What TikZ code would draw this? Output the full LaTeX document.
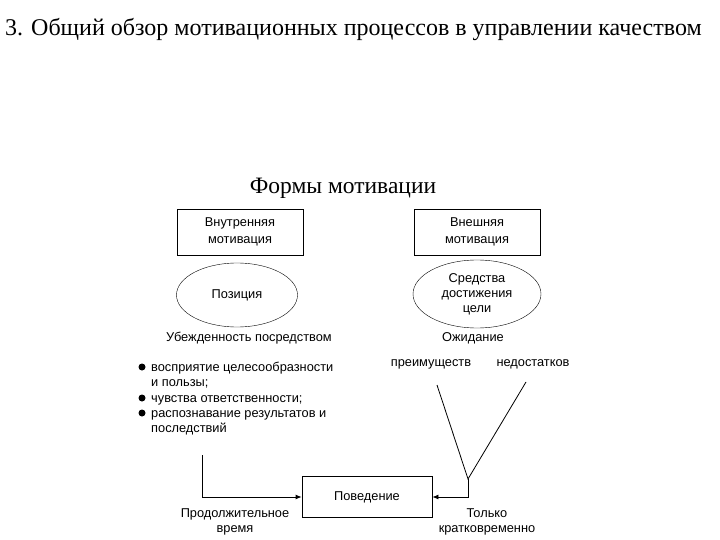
\documentclass[tikz,border=0pt]{standalone}
\usepackage{fontspec}
\setmainfont{Liberation Serif}
\setsansfont{Liberation Sans}
\usetikzlibrary{arrows.meta, positioning, shapes.geometric}

\tikzset{
  formbox/.style={draw, thick, minimum width=126pt, minimum height=46pt, align=center, font=\sffamily\fontsize{12.8}{17}\selectfont},
  formoval/.style={draw, ellipse, align=center, font=\sffamily\fontsize{12.8}{15}\selectfont},
  lbl/.style={font=\sffamily\fontsize{12.8}{15}\selectfont, align=center},
  itm/.style={font=\sffamily\fontsize{12.8}{15}\selectfont, align=left, anchor=base west, inner sep=0pt},
  dotmark/.style={circle, fill, inner sep=0pt, minimum size=7pt},
  conn/.style={thick, -{Latex[length=6pt, width=5pt]}}
}

\begin{document}
\begin{tikzpicture}[x=1pt, y=-1pt]
        \useasboundingbox (0,0) rectangle (720,540);
        % titles
        \node[anchor=west, inner sep=0pt, font=\fontsize{24}{28}\selectfont] (title) at (5,30) {3. Общий обзор мотивационных процессов в управлении качеством};
        \node[font=\fontsize{23.5}{28}\selectfont] (forms) at (343,188) {Формы мотивации};
        
        % two forms
        \node[formbox] (inner) at (240,232) {Внутренняя\\мотивация};
        \node[formbox] (outer) at (477,232) {Внешняя\\мотивация};
        \node[formoval, minimum width=121pt, minimum height=64pt] (pos) at (237,295) {Позиция};
        \node[formoval, minimum width=128pt, minimum height=68pt, inner sep=0pt] (means) at (477,294) {Средства\\достижения\\цели};
        \node[lbl] (belief) at (249,338) {Убежденность посредством};
        \node[lbl] (expect) at (473,338) {Ожидание};
        
        % list of beliefs (base = last line)
        \node[itm] (i1) at (151,386.5) {восприятие целесообразности\\и пользы;};
        \node[itm] (i2) at (151,402) {чувства ответственности;};
        \node[itm] (i3) at (151,432.5) {распознавание результатов и\\последствий};
        \node[dotmark] (d1) at (142,367) {};
        \node[dotmark] (d2) at (142,398) {};
        \node[dotmark] (d3) at (142,413) {};
        
        % expectation of
        \node[lbl] (plus) at (431,364) {преимуществ};
        \node[lbl] (minus) at (533,364) {недостатков};
        \coordinate (vl) at (437,385);
        \coordinate (vr) at (526,382);
        \coordinate (vtx) at (468,479);
        \draw[thick] (vl) -- (vtx) -- (vr);
        
        % behaviour
        \node[formbox, minimum width=130pt, minimum height=41pt] (beh) at (367,497) {Поведение};
        \coordinate (lstart) at (202,455);
        \draw[conn] (lstart) |- (beh.west);
        \draw[conn] (vtx) |- (beh.east);
        \node[lbl] (long) at (235,521.5) {Продолжительное\\время};
        \node[lbl] (short) at (487,521.5) {Только\\кратковременно};
\end{tikzpicture}
\end{document}
